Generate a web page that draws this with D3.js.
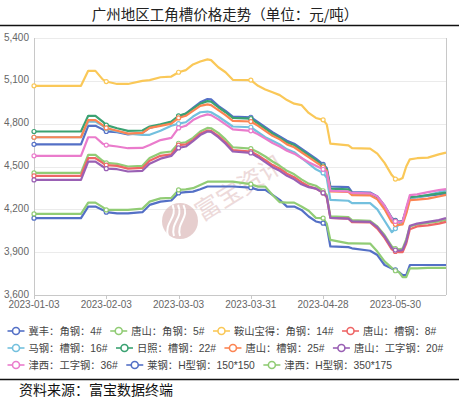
<!DOCTYPE html>
<html lang="zh">
<head>
<meta charset="UTF-8">
<title>广州地区工角槽价格走势</title>
<style>
  body { margin: 0; background: #fff; }
  svg { display: block; font-family: "Liberation Sans", "Noto Sans CJK SC", sans-serif; }
</style>
<script src="https://cdn.jsdelivr.net/npm/d3@7"></script>
</head>
<body>
<svg id="chart" width="459" height="399"></svg>
<script>
// trading-day index (0 = 2023-01-03) of each point
const dayIdx = [0,13,15,17,19, 20,23,26,30,32, 35,38,40,42,44, 46,48,49,51,53,
                55,60,62,64,66, 68,70,72,74,76, 78,80,81,82,87, 88,93,95,97,99,
                100,101,102,103,104, 106,109,112,114];

const tickIdx = [0, 20, 40, 60, 80, 100];
const tickDates = ["2023-01-03", "2023-02-03", "2023-03-03", "2023-03-31", "2023-04-28", "2023-05-30"];
const yTicks = [3600, 3900, 4200, 4500, 4800, 5100, 5400];

const seriesNames = [
    "冀丰：角钢：4#", "唐山：角钢：5#", "鞍山宝得：角钢：14#", "唐山：槽钢：8#",
    "马钢：槽钢：16#", "日照：槽钢：22#", "唐山：槽钢：25#", "唐山：工字钢：20#",
    "津西：工字钢：36#", "莱钢：H型钢：150*150", "津西：H型钢：350*175"
];
const colors = ["#5470c6", "#91cc75", "#fac858", "#ee6666", "#73c0de", "#3ba272",
                "#fc8452", "#9a60b4", "#ea7ccc", "#5470c6", "#91cc75"];

// prices, yuan/ton
const jifeng4 = [4655,4655,4785,4785,4760, 4745,4740,4725,4735,4770, 4790,4810,4850,4870,4910,
    4950,4972,4970,4925,4890, 4850,4845,4810,4775,4740, 4710,4680,4660,4625,4590,
    4555,4515,4490,4360,4355, 4320,4318,4290,4225,4140, 4122,4115,4120,4195,4280, 4285,4295,4305,4310];
const tangshan5 = [4455,4455,4582,4582,4540, 4525,4518,4500,4505,4560, 4595,4605,4663,4670,4700,
    4745,4770,4768,4735,4690, 4635,4625,4600,4570,4535, 4505,4470,4445,4410,4380,
    4365,4330,4300,4150,4145, 4125,4120,4080,4020,3940, 3925,3920,3925,3990,4080, 4095,4105,4115,4125];
const anshan14 = [5065,5065,5170,5170,5110, 5095,5078,5078,5100,5105, 5125,5130,5160,5175,5215,
    5235,5250,5245,5195,5160, 5107,5105,5065,5040,5020, 5000,4965,4940,4930,4875,
    4840,4827,4795,4660,4648, 4628,4625,4590,4525,4440, 4412,4408,4420,4500,4550, 4558,4562,4585,4597];
const tangshan8 = [4435,4435,4558,4558,4525, 4510,4504,4485,4490,4540, 4575,4585,4650,4655,4685,
    4730,4752,4750,4715,4670, 4615,4605,4578,4545,4510, 4485,4450,4425,4390,4362,
    4345,4315,4285,4140,4135, 4110,4108,4065,4000,3920, 3905,3900,3900,3960,4060, 4080,4088,4100,4112];
const magang16 = [4705,4705,4815,4815,4785, 4765,4745,4730,4722,4722, 4750,4785,4800,4810,4850,
    4880,4885,4880,4850,4815, 4780,4775,4740,4705,4680, 4655,4620,4600,4560,4520,
    4480,4455,4420,4266,4260, 4243,4243,4200,4120,4040, 4065,4095,4110,4180,4280, 4285,4300,4320,4332];
const rizhao22 = [4745,4745,4855,4855,4815, 4790,4768,4750,4752,4780, 4795,4815,4855,4870,4905,
    4940,4958,4955,4915,4880, 4840,4835,4800,4765,4730, 4700,4668,4650,4615,4580,
    4545,4505,4480,4345,4340, 4312,4310,4285,4220,4135, 4118,4110,4115,4200,4285, 4290,4300,4310,4318];
const tangshan25 = [4705,4705,4825,4825,4790, 4770,4750,4730,4735,4770, 4785,4800,4840,4855,4890,
    4925,4935,4930,4895,4860, 4820,4815,4785,4750,4715, 4690,4655,4635,4600,4565,
    4530,4495,4470,4325,4322, 4300,4298,4270,4200,4110, 4095,4090,4095,4170,4265, 4268,4275,4290,4301];
const tangshan20 = [4406,4406,4534,4534,4500, 4485,4481,4465,4470,4520, 4555,4574,4630,4640,4678,
    4720,4745,4742,4705,4660, 4605,4595,4565,4530,4495, 4470,4435,4410,4375,4355,
    4345,4315,4290,4140,4135, 4115,4112,4075,4010,3930, 3915,3910,3915,3975,4085, 4100,4112,4125,4138];
const jinxi36 = [4575,4575,4705,4705,4660, 4650,4640,4628,4630,4650, 4685,4700,4770,4785,4825,
    4850,4865,4860,4830,4795, 4760,4750,4725,4695,4665, 4640,4610,4590,4560,4530,
    4505,4480,4460,4330,4325, 4315,4312,4290,4225,4135, 4115,4110,4115,4210,4300, 4305,4320,4335,4341];
const laigangH = [4138,4138,4219,4219,4196, 4180,4172,4172,4180,4231, 4254,4262,4315,4320,4324,
    4341,4360,4360,4360,4360, 4360,4352,4336,4336,4301, 4266,4219,4219,4196,4150,
    4115,4103,4085,3940,3935, 3927,3910,3880,3810,3785, 3777,3760,3740,3740,3810, 3810,3810,3810,3810];
const jinxiH = [4168,4168,4247,4247,4215, 4196,4196,4196,4205,4254, 4277,4280,4336,4340,4348,
    4371,4394,4394,4394,4394, 4394,4376,4359,4359,4301, 4250,4247,4247,4220,4190,
    4140,4138,4100,3986,3962, 3962,3960,3904,3835,3790, 3770,3760,3725,3725,3787, 3787,3790,3790,3790];

const seriesValues = [jifeng4, tangshan5, anshan14, tangshan8, magang16, rizhao22,
                      tangshan25, tangshan20, jinxi36, laigangH, jinxiH];

const svg = d3.select("#chart");
const plot = { left: 34, right: 446, top: 38, bottom: 295 };

const x = d3.scaleLinear().domain([0, 114]).range([plot.left, plot.right]);
const y = d3.scaleLinear().domain([3600, 5400]).range([plot.bottom, plot.top]);

// title + rule
svg.append("text")
    .attr("x", 225).attr("y", 20)
    .attr("text-anchor", "middle")
    .style("font-family", "'Noto Sans CJK SC', sans-serif")
    .style("font-size", "14.5px")
    .attr("fill", "#222")
    .text("广州地区工角槽价格走势（单位：元/吨）");
svg.append("line").attr("x1", 0).attr("x2", 459).attr("y1", 25.5).attr("y2", 25.5)
    .attr("stroke", "#111").attr("stroke-width", 1.4);

// grid
svg.append("g").selectAll("line")
    .data(yTicks.slice(1))
    .join("line")
    .attr("x1", plot.left).attr("x2", plot.right)
    .attr("y1", d => Math.round(y(d)) + 0.5).attr("y2", d => Math.round(y(d)) + 0.5)
    .attr("stroke", "#ebebeb");

// watermark
const wm = svg.append("g").attr("opacity", 0.6);
wm.append("circle").attr("cx", 180).attr("cy", 221).attr("r", 18).attr("fill", "#d6aeae");
[[-6, 0.9], [0, 1.2], [6, 0.9]].forEach(([dx, s]) => {
    wm.append("path")
        .attr("d", `M${174 + dx},${236} C${170 + dx},${222} ${184 + dx},${218} ${178 + dx * s},${205}`)
        .attr("fill", "none").attr("stroke", "#fff").attr("stroke-width", 2);
});
wm.append("text")
    .attr("transform", "translate(202,222) rotate(-32)")
    .style("font-family", "'Noto Sans CJK SC', sans-serif")
    .style("font-size", "25px")
    .attr("fill", "#e2c2c2")
    .text("富宝资讯");

// axes
svg.append("line").attr("x1", plot.left + 0.5).attr("x2", plot.left + 0.5)
    .attr("y1", plot.top).attr("y2", plot.bottom).attr("stroke", "#c8c8c8");
svg.append("line").attr("x1", plot.right + 0.5).attr("x2", plot.right + 0.5)
    .attr("y1", plot.top).attr("y2", plot.bottom).attr("stroke", "#c8c8c8");
svg.append("line").attr("x1", plot.left).attr("x2", plot.right)
    .attr("y1", plot.bottom + 0.5).attr("y2", plot.bottom + 0.5).attr("stroke", "#c8c8c8");

svg.append("g").selectAll("text")
    .data(yTicks)
    .join("text")
    .attr("x", 29).attr("y", d => y(d) - 1)
    .attr("dy", "0.35em")
    .attr("text-anchor", "end")
    .attr("fill", "#666")
    .style("font-size", "10px")
    .text(d => d3.format(",")(d));

svg.append("g").selectAll("line")
    .data(tickIdx)
    .join("line")
    .attr("x1", d => Math.round(x(d)) + 0.5).attr("x2", d => Math.round(x(d)) + 0.5)
    .attr("y1", plot.bottom).attr("y2", plot.bottom + 4)
    .attr("stroke", "#c8c8c8");

svg.append("g").selectAll("text")
    .data(tickIdx)
    .join("text")
    .attr("x", d => x(d)).attr("y", 308)
    .attr("text-anchor", "middle")
    .attr("fill", "#666")
    .style("font-size", "10px")
    .text((d, i) => tickDates[i]);

// series lines
const line = d3.line()
    .x(d => x(d[0]))
    .y(d => y(d[1]));

const seriesG = svg.append("g");
seriesValues.forEach((vals, s) => {
    const pts = dayIdx.map((d, i) => [d, vals[i]]);
    seriesG.append("path")
        .datum(pts)
        .attr("fill", "none")
        .attr("stroke", colors[s])
        .attr("stroke-width", 2.2)
        .attr("stroke-linejoin", "round")
        .attr("d", line);
});
seriesValues.forEach((vals, s) => {
    const pts = dayIdx.map((d, i) => [d, vals[i]]).filter(p => tickIdx.includes(p[0]));
    seriesG.append("g").selectAll("circle")
        .data(pts)
        .join("circle")
        .attr("cx", d => x(d[0])).attr("cy", d => y(d[1]))
        .attr("r", 2)
        .attr("fill", "#fff")
        .attr("stroke", colors[s])
        .attr("stroke-width", 1.2);
});

// legend
const legend = svg.append("g");
let lx = 7.5, row = 0;
seriesNames.forEach((name, s) => {
    const item = legend.append("g");
    const t = item.append("text")
        .attr("x", 21).attr("dy", "0.35em")
        .attr("fill", "#444")
        .style("font-size", "10.3px")
        .text(name);
    const w = t.node().getComputedTextLength();
    if (lx + 21 + w > 452) { lx = 7.5; row++; }
    item.attr("transform", `translate(${lx},${331 + row * 17})`);
    item.append("line").attr("x1", 0).attr("x2", 17).attr("y1", 0).attr("y2", 0)
        .attr("stroke", colors[s]).attr("stroke-width", 1.6);
    item.append("circle").attr("cx", 8.5).attr("cy", 0).attr("r", 3.5)
        .attr("fill", "#fff").attr("stroke", colors[s]).attr("stroke-width", 1.6);
    lx += 21 + w + 8.5;
});

// source
svg.append("line").attr("x1", 0).attr("x2", 459).attr("y1", 379.5).attr("y2", 379.5)
    .attr("stroke", "#111").attr("stroke-width", 1.4);
svg.append("text")
    .attr("x", 19).attr("y", 395)
    .style("font-family", "'Noto Sans CJK SC', sans-serif")
    .style("font-size", "14px")
    .attr("fill", "#111")
    .text("资料来源：富宝数据终端");
</script>
</body>
</html>
